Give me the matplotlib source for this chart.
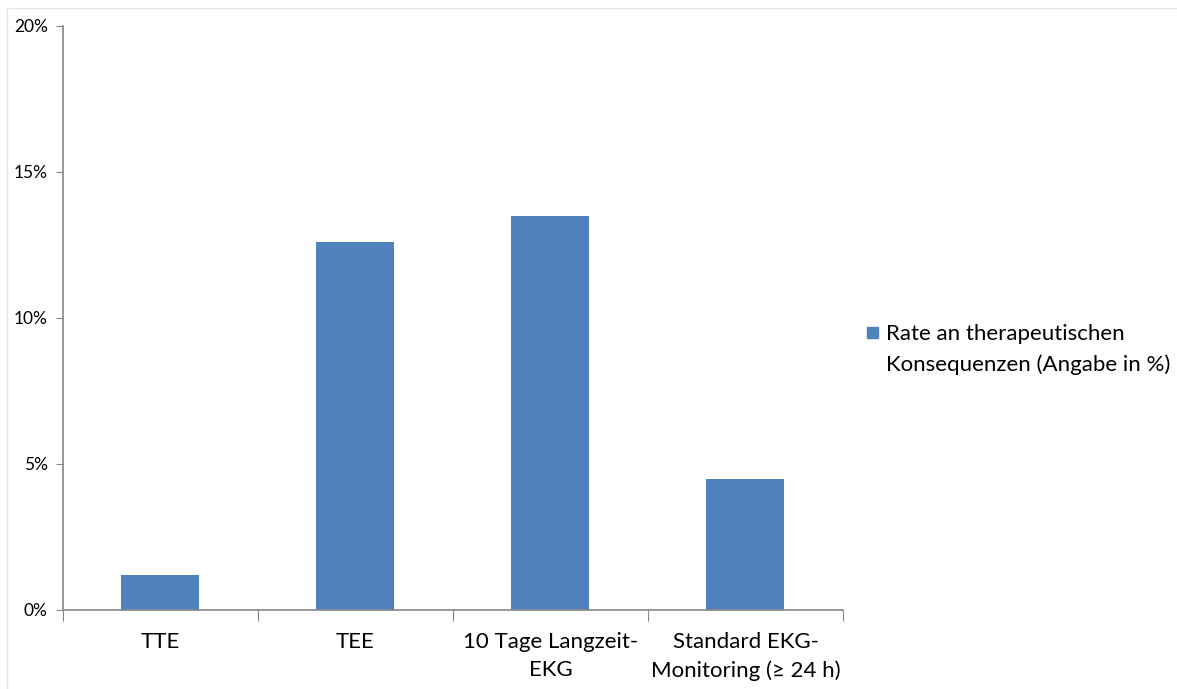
import matplotlib

matplotlib.use("Agg")
import matplotlib.pyplot as plt  # noqa:E402
from matplotlib.patches import Rectangle  # noqa:E402
from matplotlib.ticker import FuncFormatter, MultipleLocator  # noqa:E402

# rate of therapeutic consequences per diagnostic method, in percent
categories = ["TTE", "TEE", "10 Tage Langzeit-\nEKG", "Standard EKG-\nMonitoring (≥ 24 h)"]
rates = [1.2, 12.6, 13.5, 4.5]
series_label = "Rate an therapeutischen\nKonsequenzen (Angabe in %)"

BAR_COLOR = "#4f81bd"
AXIS_COLOR = "#868686"

plt.rcParams["font.family"] = ["Lato", "DejaVu Sans"]


def main():
    fig = plt.figure(figsize=(11.77, 6.89), dpi=100)
    ax = fig.add_axes([0.0535, 0.1147, 0.6627, 0.8476])

    x = range(len(categories))
    ax.bar(x, rates, width=0.4, color=BAR_COLOR, zorder=2)

    ax.set_xlim(-0.5, len(categories) - 0.5)
    ax.set_ylim(0, 20)
    ax.yaxis.set_major_locator(MultipleLocator(5))
    ax.yaxis.set_major_formatter(FuncFormatter(lambda v, _: f"{v:.0f}%"))

    # category labels centred, tick marks on the category boundaries
    ax.set_xticks([i + 0.5 for i in range(-1, len(categories))])
    ax.set_xticklabels([])
    ax.set_xticks(list(x), minor=True)
    ax.set_xticklabels(categories, minor=True, fontsize=16, linespacing=1.5)
    ax.tick_params(axis="x", which="minor", length=0, pad=16)
    ax.tick_params(axis="x", which="major", length=8, color=AXIS_COLOR, direction="out")
    ax.tick_params(axis="y", length=5, color=AXIS_COLOR, labelsize=12.5, pad=6)

    for side in ("top", "right"):
        ax.spines[side].set_visible(False)
    for side in ("left", "bottom"):
        ax.spines[side].set_color(AXIS_COLOR)
        ax.spines[side].set_linewidth(1.2)

    # legend: square marker next to a two-line label
    fig.patches.append(
        Rectangle((867 / 1177, 1 - 338 / 689), 11 / 1177, 11 / 689,
                  transform=fig.transFigure, color=BAR_COLOR)
    )
    fig.text(886 / 1177, 1 - 324 / 689, series_label, fontsize=16,
             va="top", ha="left", linespacing=1.6)

    # thin frame around the chart area
    fig.patches.append(
        Rectangle((7 / 1177, -0.01), 1.02, 1 - 8 / 689 + 0.01, transform=fig.transFigure,
                  fill=False, edgecolor="#e8e8e8", linewidth=1.0)
    )

    fig.savefig("out.png", dpi=100)
    plt.close(fig)


if __name__ == "__main__":
    main()
